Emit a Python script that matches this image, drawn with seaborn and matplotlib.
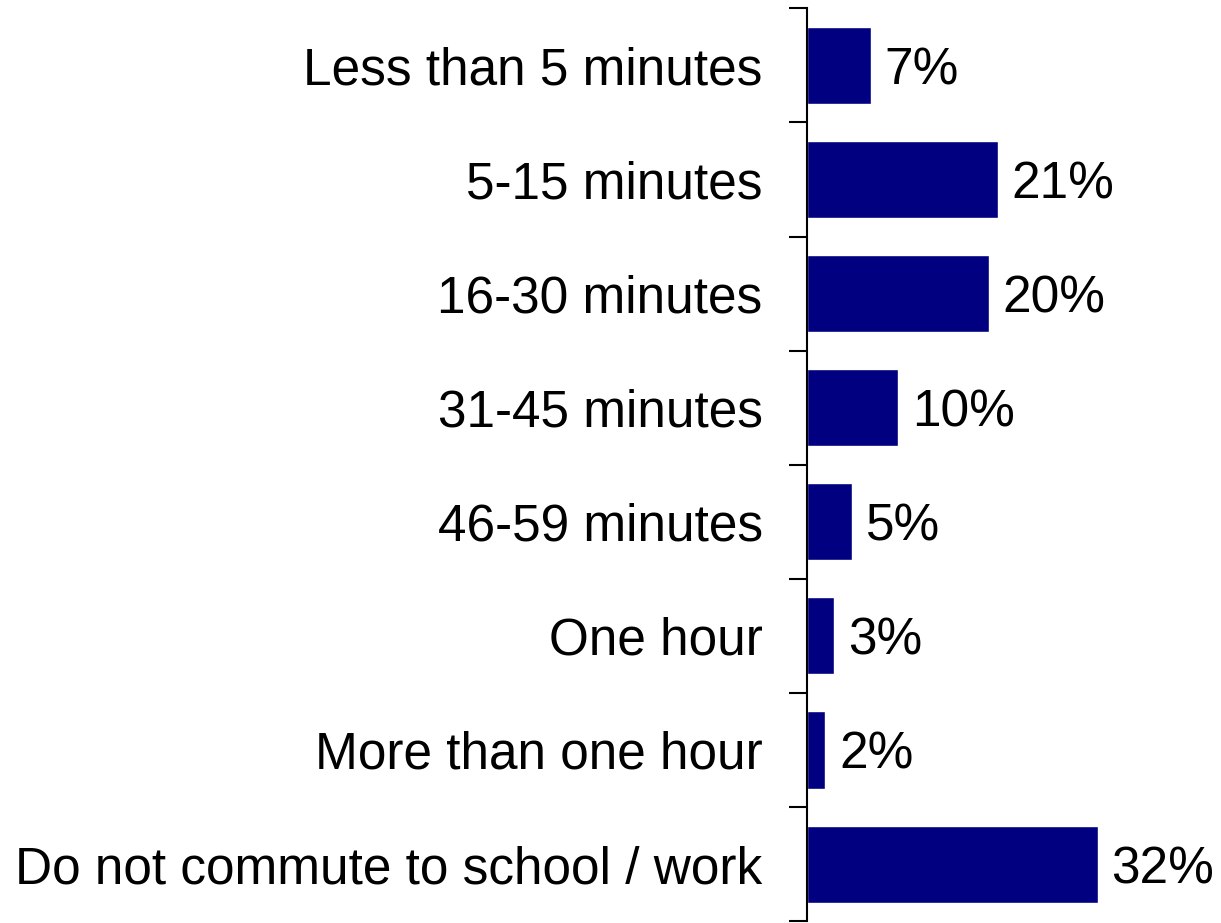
import numpy as np
import pandas as pd
import matplotlib
matplotlib.use("Agg")
import matplotlib.pyplot as plt
import seaborn as sns

categories = [
    "Less than 5 minutes",
    "5-15 minutes",
    "16-30 minutes",
    "31-45 minutes",
    "46-59 minutes",
    "One hour",
    "More than one hour",
    "Do not commute to school / work",
]
values = [7, 21, 20, 10, 5, 3, 2, 32]

sns.set_style("white")
plt.rcParams['font.family'] = ['Liberation Sans', 'DejaVu Sans']

df = pd.DataFrame({"category": categories, "value": values})

fig = plt.figure(figsize=(12.21, 9.23), dpi=100)
ax = fig.add_axes([0.661, 0.002, 0.339, 0.989])

sns.barplot(data=df, x="value", y="category", orient="h", color="#000080",
            saturation=1, width=0.675, ax=ax)

for i, v in enumerate(values):
    ax.annotate(f"{v}%", xy=(v, i), xytext=(10, 0), textcoords="offset points",
                ha="left", va="center_baseline", fontsize=37, color="black")

ax.set_xlim(0, 45.6)
ax.set_ylim(len(categories) - 0.5, -0.5)
ax.set_xlabel("")
ax.set_ylabel("")
ax.set_xticks([])

for s in ["top", "right", "bottom"]:
    ax.spines[s].set_visible(False)
ax.spines["left"].set_linewidth(1.5)
ax.spines["left"].set_color("black")

ax.set_yticks(np.arange(-0.5, len(categories) + 0.5, 1), minor=True)
ax.tick_params(axis="y", which="major", length=0, pad=32, labelsize=37,
               labelcolor="black")
for lbl in ax.get_yticklabels():
    lbl.set_verticalalignment("center_baseline")
ax.tick_params(axis="y", which="minor", length=13, width=1.5, color="black",
               direction="out", left=True)

fig.savefig("out.png", dpi=100)
plt.close(fig)
